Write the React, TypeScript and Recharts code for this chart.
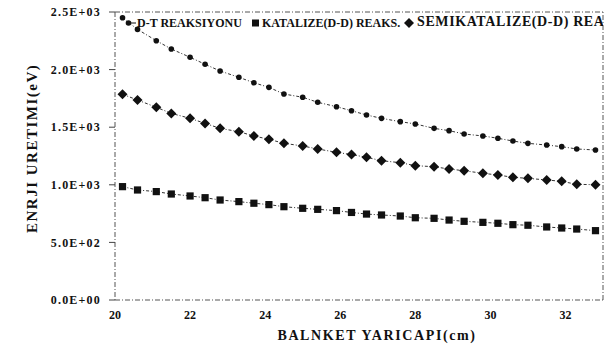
import { LineChart, Line, XAxis, YAxis, ReferenceLine, Legend } from "recharts"

// blanket radius (cm)
const radius = [
  20.2, 20.6, 21.1, 21.5, 22.0, 22.4, 22.8, 23.3, 23.7, 24.1,
  24.5, 25.0, 25.4, 25.9, 26.3, 26.7, 27.1, 27.6, 28.0, 28.5,
  28.9, 29.3, 29.8, 30.2, 30.6, 31.0, 31.5, 31.9, 32.3, 32.8
]

const dtReaction = [
  2450, 2349, 2251, 2179, 2107, 2046, 1988, 1933, 1886, 1846,
  1788, 1760, 1716, 1678, 1643, 1606, 1577, 1548, 1528, 1490,
  1470, 1441, 1424, 1404, 1380, 1360, 1345, 1331, 1311, 1302
]

const catalyzedDD = [
  984, 955, 941, 920, 903, 888, 868, 854, 840, 828,
  810, 796, 787, 776, 760, 746, 738, 729, 714, 709,
  694, 683, 674, 666, 654, 649, 634, 625, 616, 602
]

const semiCatalyzedDD = [
  1786, 1736, 1673, 1620, 1577, 1533, 1490, 1461, 1424, 1395,
  1360, 1337, 1311, 1282, 1262, 1239, 1209, 1192, 1166, 1157,
  1137, 1122, 1100, 1085, 1065, 1056, 1042, 1030, 1004, 1001
]

const yTicks = [0, 500, 1000, 1500, 2000, 2500]
const xTicks = [20, 22, 24, 26, 28, 30, 32]

const data = radius.map((r, i) => ({
  r,
  dt: dtReaction[i],
  cat: catalyzedDD[i],
  semi: semiCatalyzedDD[i]
}))

const ink = "#111"
const font = "'Liberation Serif', 'Times New Roman', serif"

const fmtY = (v: number) => {
  if (v === 0) return "0.0E+00"
  const e = Math.floor(Math.log10(v))
  return (v / Math.pow(10, e)).toFixed(1) + "E+" + String(e).padStart(2, "0")
}

const CircleDot = (p: any) => (
  <circle key={p.index} cx={p.cx} cy={p.cy} r={2.8} fill={ink} />
)

const SquareDot = (p: any) => (
  <rect key={p.index} x={p.cx - 3.6} y={p.cy - 3.6} width={7.2} height={7.2} fill={ink} />
)

const DiamondDot = (p: any) => (
  <path
    key={p.index}
    d={`M${p.cx},${p.cy - 5} L${p.cx + 5},${p.cy} L${p.cx},${p.cy + 5} L${p.cx - 5},${p.cy} Z`}
    fill={ink}
  />
)

// legend sits inside the plot, clipped by the right frame like the scan
const LegendContent = () => (
  <div style={{ position: "relative", height: 20, whiteSpace: "nowrap", fontFamily: font, fontWeight: "bold", color: ink }}>
    <svg width={12} height={10} style={{ position: "absolute", left: 0, top: 4 }}>
      <circle cx={3.5} cy={5} r={2.8} fill={ink} />
      <line x1={6} y1={5} x2={11} y2={5} stroke={ink} />
    </svg>
    <span style={{ position: "absolute", left: 12, top: 2, fontSize: 12 }}>D-T REAKSIYONU</span>
    <svg width={10} height={10} style={{ position: "absolute", left: 126, top: 4 }}>
      <rect x={1} y={1.5} width={7} height={7} fill={ink} />
    </svg>
    <span style={{ position: "absolute", left: 137, top: 2, fontSize: 12 }}>KATALIZE(D-D) REAKS.</span>
    <svg width={12} height={12} style={{ position: "absolute", left: 278, top: 3 }}>
      <path d="M6,1 L11,6 L6,11 L1,6 Z" fill={ink} />
    </svg>
    <span style={{ position: "absolute", left: 292, top: 0, fontSize: 14, letterSpacing: 0.6 }}>SEMIKATALIZE(D-D) REAKSIYONU</span>
  </div>
)

const lineStyle = { stroke: "#333", strokeWidth: 1, strokeDasharray: "3 2 1 2" }
const frame = { stroke: "#555", strokeWidth: 1, strokeDasharray: "5 2 1 2" }

export default function App() {
  return (
    <div style={{ position: "absolute", left: 0, top: 0, width: 608, height: 359, background: "#fff" }}>
      <LineChart width={608} height={359} data={data} margin={{ top: 12, right: 5, bottom: 29, left: 0 }}>
        <XAxis
          dataKey="r"
          type="number"
          domain={[20, 33]}
          ticks={xTicks}
          allowDataOverflow
          axisLine={frame}
          tickLine={false}
          tickMargin={4}
          tick={{ fill: ink, fontSize: 12, fontWeight: "bold", fontFamily: font }}
          label={{ value: "BALNKET YARICAPI(cm)", position: "bottom", offset: 0, dx: 18, fill: ink, fontSize: 14, fontWeight: "bold", fontFamily: font, letterSpacing: 1.6 }}
        />
        <YAxis
          type="number"
          domain={[0, 2500]}
          ticks={yTicks}
          width={115}
          tickFormatter={fmtY}
          axisLine={frame}
          tickLine={{ stroke: "#444" }}
          tickSize={6}
          tickMargin={8}
          tick={{ fill: ink, fontSize: 12, fontWeight: "bold", fontFamily: font, letterSpacing: 1.2 }}
          label={{ value: "ENRJI URETIMI(eV)", angle: -90, position: "insideLeft", offset: 32, dy: 77, fill: ink, fontSize: 15, fontWeight: "bold", fontFamily: font, letterSpacing: 1.5 }}
        />
        <ReferenceLine y={2500} {...frame} />
        <ReferenceLine x={33} {...frame} />
        <Legend
          layout="horizontal"
          verticalAlign="middle"
          align="center"
          content={LegendContent}
          wrapperStyle={{ position: "absolute", top: 14, left: 125, width: 478, height: 20, overflow: "hidden" }}
        />
        <Line dataKey="dt" name="D-T REAKSIYONU" {...lineStyle} dot={CircleDot} isAnimationActive={false} />
        <Line dataKey="cat" name="KATALIZE(D-D) REAKS." {...lineStyle} dot={SquareDot} isAnimationActive={false} />
        <Line dataKey="semi" name="SEMIKATALIZE(D-D) REAKSIYONU" {...lineStyle} dot={DiamondDot} isAnimationActive={false} />
      </LineChart>
    </div>
  )
}
